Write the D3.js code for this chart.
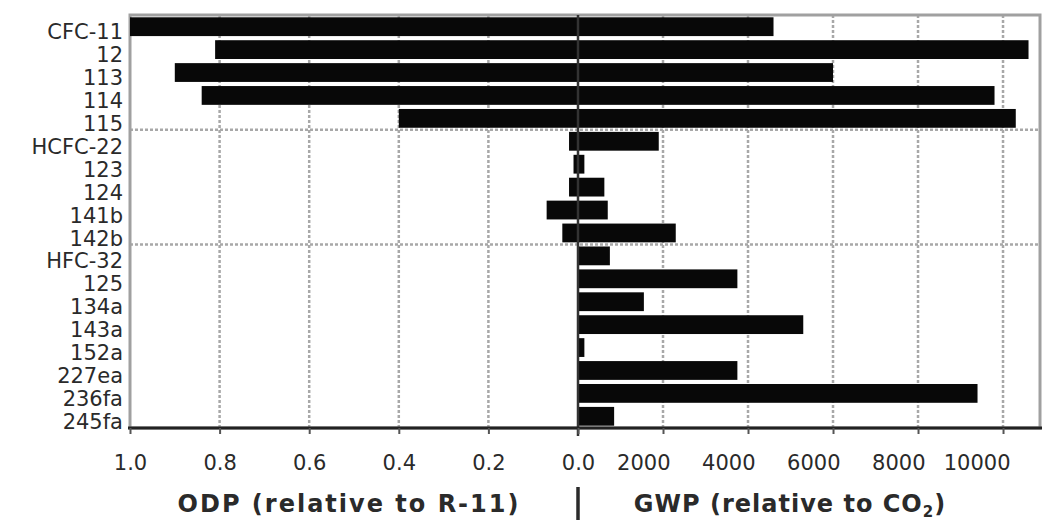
<!DOCTYPE html>
<html>
<head>
<meta charset="utf-8">
<script src="https://cdn.jsdelivr.net/npm/d3@7"></script>
<style>
  html, body { margin: 0; padding: 0; background: #fff; }
  svg { display: block; }
  text { font-family: "DejaVu Sans", "Liberation Sans", Arial, sans-serif; fill: #2a2a2a; }
</style>
</head>
<body>
<svg id="chart" width="1050" height="527"></svg>
<script>
// Compounds (top to bottom) and their labels as printed on the axis
const compounds = ["CFC-11","CFC-12","CFC-113","CFC-114","CFC-115",
                   "HCFC-22","HCFC-123","HCFC-124","HCFC-141b","HCFC-142b",
                   "HFC-32","HFC-125","HFC-134a","HFC-143a","HFC-152a","HFC-227ea","HFC-236fa","HFC-245fa"];
const rowLabels = ["CFC-11","12","113","114","115",
                   "HCFC-22","123","124","141b","142b",
                   "HFC-32","125","134a","143a","152a","227ea","236fa","245fa"];
// Ozone depletion potential (relative to R-11)
const odp = [1.0, 0.81, 0.90, 0.84, 0.40,
             0.02, 0.01, 0.02, 0.07, 0.035,
             0, 0, 0, 0, 0, 0, 0, 0];
// Global warming potential (relative to CO2)
const gwp = [4600, 10600, 6000, 9800, 10300,
             1900, 150, 620, 700, 2300,
             750, 3750, 1550, 5300, 150, 3750, 9400, 850];
// group boundaries (index of first row of each new group)
const groupStarts = [5, 10];
const odpTicks = [1.0, 0.8, 0.6, 0.4, 0.2, 0.0];
const gwpTicks = [2000, 4000, 6000, 8000, 10000];

const svg = d3.select("#chart");
const pTop = 15, pBottom = 428, pLeft = 130, pMid = 578, pRight = 1040;

const y = d3.scaleBand().domain(compounds).range([pTop, pBottom]).paddingInner(0.18).paddingOuter(0.1);
const xODP = d3.scaleLinear().domain([1, 0]).range([pLeft, pMid]);
const xGWP = d3.scaleLinear().domain([0, 10870]).range([pMid, pRight]);

const gridStyle = sel => sel.attr("stroke", "#a8a8a8").attr("stroke-width", 2.5).attr("stroke-dasharray", "3,2");

// vertical gridlines
svg.append("g").selectAll("line").data(odpTicks.slice(1, -1)).join("line")
  .attr("x1", d => xODP(d)).attr("x2", d => xODP(d))
  .attr("y1", pTop).attr("y2", pBottom).call(gridStyle);
svg.append("g").selectAll("line").data(gwpTicks).join("line")
  .attr("x1", d => xGWP(d)).attr("x2", d => xGWP(d))
  .attr("y1", pTop).attr("y2", pBottom).call(gridStyle);

// horizontal group separators
svg.append("g").selectAll("line").data(groupStarts).join("line")
  .attr("x1", pLeft).attr("x2", pRight)
  .attr("y1", d => y(compounds[d]) - y.step() * y.paddingInner() / 2)
  .attr("y2", d => y(compounds[d]) - y.step() * y.paddingInner() / 2)
  .call(gridStyle);

// frame
svg.append("rect").attr("x", pLeft).attr("y", pTop)
  .attr("width", pRight - pLeft).attr("height", pBottom - pTop)
  .attr("fill", "none").attr("stroke", "#a0a0a0").attr("stroke-width", 3);

// ODP bars
svg.append("g").selectAll("rect").data(compounds).join("rect")
  .attr("x", (d, i) => xODP(odp[i]))
  .attr("width", (d, i) => xODP(0) - xODP(odp[i]))
  .attr("y", d => y(d)).attr("height", y.bandwidth())
  .attr("fill", "#080808");
// GWP bars
svg.append("g").selectAll("rect").data(compounds).join("rect")
  .attr("x", xGWP(0))
  .attr("width", (d, i) => xGWP(gwp[i]) - xGWP(0))
  .attr("y", d => y(d)).attr("height", y.bandwidth())
  .attr("fill", "#080808");

// zero line
svg.append("line").attr("x1", pMid).attr("x2", pMid).attr("y1", pTop).attr("y2", pBottom + 8)
  .attr("stroke", "#333").attr("stroke-width", 2.5);

// bottom axis line
svg.append("line").attr("x1", pLeft - 2).attr("x2", pRight + 2).attr("y1", pBottom).attr("y2", pBottom)
  .attr("stroke", "#222").attr("stroke-width", 3);

// axes
const axODP = svg.append("g").attr("transform", `translate(0,${pBottom})`)
  .call(d3.axisBottom(xODP).tickValues(odpTicks).tickFormat(d3.format(".1f")).tickSize(6).tickPadding(21));
const axGWP = svg.append("g").attr("transform", `translate(0,${pBottom})`)
  .call(d3.axisBottom(xGWP).tickValues(gwpTicks).tickFormat(d3.format("d")).tickSize(6).tickPadding(21));
[axODP, axGWP].forEach(a => {
  a.select(".domain").remove();
  a.selectAll("line").attr("stroke", "#555").attr("stroke-width", 2);
  a.selectAll("text").style("font-size", "21px")
    .style("font-family", "DejaVu Sans, Liberation Sans, Arial, sans-serif").attr("fill", "#2a2a2a");
});
// GWP labels sit just left of their tick
axGWP.selectAll("text").attr("text-anchor", "end").attr("x", 7);

// row labels
svg.append("g").selectAll("text").data(compounds).join("text")
  .attr("x", pLeft - 7)
  .attr("y", d => y(d) + y.bandwidth() / 2)
  .attr("dy", "0.6em")
  .attr("text-anchor", "end")
  .style("font-size", "21px")
  .attr("fill", "#2a2a2a")
  .text((d, i) => rowLabels[i]);

// axis titles
svg.append("text").attr("x", 349).attr("y", 512).attr("text-anchor", "middle")
  .style("font-size", "24px").style("font-weight", "bold").style("letter-spacing", "2px").attr("fill", "#2a2a2a")
  .text("ODP (relative to R-11)");
const g = svg.append("text").attr("x", 790).attr("y", 512).attr("text-anchor", "middle")
  .style("font-size", "24px").style("font-weight", "bold").style("letter-spacing", "1px").attr("fill", "#2a2a2a");
g.append("tspan").text("GWP (relative to CO");
g.append("tspan").attr("dy", 5).style("font-size", "15px").text("2");
g.append("tspan").attr("dy", -5).text(")");
svg.append("line").attr("x1", pMid).attr("x2", pMid).attr("y1", 487).attr("y2", 520)
  .attr("stroke", "#2a2a2a").attr("stroke-width", 3.5);
</script>
</body>
</html>
